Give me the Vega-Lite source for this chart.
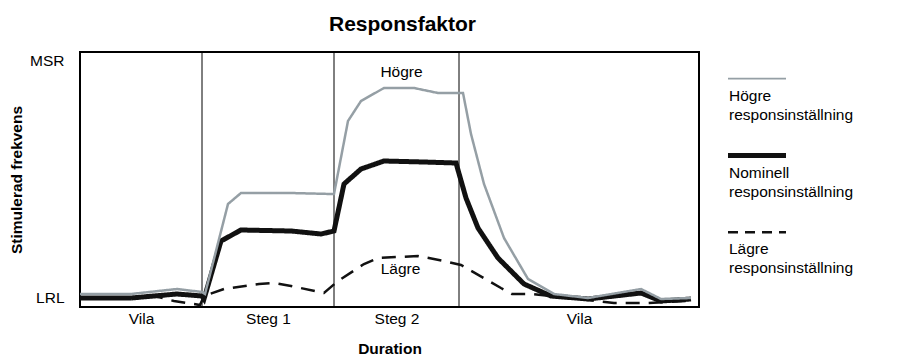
{
  "$schema": "https://vega.github.io/schema/vega-lite/v6.json",
  "background": "white",
  "padding": {"left": 8, "top": 12, "right": 5, "bottom": 0},
  "config": {
    "view": {"stroke": null},
    "font": "Liberation Sans",
    "text": {"font": "Liberation Sans", "color": "#000"},
    "title": {"font": "Liberation Sans", "color": "#000"},
    "axis": {"labelFont": "Liberation Sans", "titleFont": "Liberation Sans", "labelColor": "#000", "titleColor": "#000"}
  },
  "datasets": {
    "linjer": [
      {"serie": "Lägre", "t": 0, "v": 9}, {"serie": "Lägre", "t": 51, "v": 9}, {"serie": "Lägre", "t": 74, "v": 11}, {"serie": "Lägre", "t": 94, "v": 6}, {"serie": "Lägre", "t": 120, "v": 2}, {"serie": "Lägre", "t": 124, "v": 11}, {"serie": "Lägre", "t": 144, "v": 18}, {"serie": "Lägre", "t": 179, "v": 23}, {"serie": "Lägre", "t": 194, "v": 24}, {"serie": "Lägre", "t": 211, "v": 21}, {"serie": "Lägre", "t": 244, "v": 14}, {"serie": "Lägre", "t": 258, "v": 26}, {"serie": "Lägre", "t": 284, "v": 43}, {"serie": "Lägre", "t": 298, "v": 49}, {"serie": "Lägre", "t": 338, "v": 51}, {"serie": "Lägre", "t": 364, "v": 46}, {"serie": "Lägre", "t": 381, "v": 42}, {"serie": "Lägre", "t": 421, "v": 19}, {"serie": "Lägre", "t": 432, "v": 13}, {"serie": "Lägre", "t": 452, "v": 13}, {"serie": "Lägre", "t": 480, "v": 10}, {"serie": "Lägre", "t": 508, "v": 7}, {"serie": "Lägre", "t": 534, "v": 4}, {"serie": "Lägre", "t": 568, "v": 4}, {"serie": "Lägre", "t": 608, "v": 6},
      {"serie": "Nominell", "t": 0, "v": 9}, {"serie": "Nominell", "t": 51, "v": 9}, {"serie": "Nominell", "t": 74, "v": 11}, {"serie": "Nominell", "t": 97, "v": 13}, {"serie": "Nominell", "t": 122, "v": 11}, {"serie": "Nominell", "t": 124, "v": 8}, {"serie": "Nominell", "t": 141, "v": 66}, {"serie": "Nominell", "t": 161, "v": 77}, {"serie": "Nominell", "t": 211, "v": 76}, {"serie": "Nominell", "t": 241, "v": 73}, {"serie": "Nominell", "t": 254, "v": 76}, {"serie": "Nominell", "t": 264, "v": 123}, {"serie": "Nominell", "t": 281, "v": 138}, {"serie": "Nominell", "t": 304, "v": 146}, {"serie": "Nominell", "t": 344, "v": 145}, {"serie": "Nominell", "t": 376, "v": 144}, {"serie": "Nominell", "t": 386, "v": 109}, {"serie": "Nominell", "t": 398, "v": 79}, {"serie": "Nominell", "t": 418, "v": 49}, {"serie": "Nominell", "t": 444, "v": 23}, {"serie": "Nominell", "t": 471, "v": 11}, {"serie": "Nominell", "t": 508, "v": 8}, {"serie": "Nominell", "t": 561, "v": 14}, {"serie": "Nominell", "t": 581, "v": 6}, {"serie": "Nominell", "t": 611, "v": 8},
      {"serie": "Högre", "t": 0, "v": 13}, {"serie": "Högre", "t": 51, "v": 13}, {"serie": "Högre", "t": 97, "v": 18}, {"serie": "Högre", "t": 122, "v": 15}, {"serie": "Högre", "t": 125, "v": 13}, {"serie": "Högre", "t": 148, "v": 103}, {"serie": "Högre", "t": 161, "v": 114}, {"serie": "Högre", "t": 211, "v": 114}, {"serie": "Högre", "t": 251, "v": 113}, {"serie": "Högre", "t": 254, "v": 113}, {"serie": "Högre", "t": 268, "v": 186}, {"serie": "Högre", "t": 281, "v": 206}, {"serie": "Högre", "t": 304, "v": 219}, {"serie": "Högre", "t": 334, "v": 219}, {"serie": "Högre", "t": 358, "v": 214}, {"serie": "Högre", "t": 383, "v": 214}, {"serie": "Högre", "t": 391, "v": 173}, {"serie": "Högre", "t": 404, "v": 123}, {"serie": "Högre", "t": 424, "v": 69}, {"serie": "Högre", "t": 448, "v": 28}, {"serie": "Högre", "t": 474, "v": 13}, {"serie": "Högre", "t": 508, "v": 9}, {"serie": "Högre", "t": 561, "v": 18}, {"serie": "Högre", "t": 581, "v": 8}, {"serie": "Högre", "t": 611, "v": 9}
    ],
    "faser": [
      {"fas": "Steg 1", "t": 122},
      {"fas": "Steg 2", "t": 254},
      {"fas": "Vila", "t": 379}
    ],
    "etiketter": [
      {"text": "Högre", "t": 321.5, "v": 230},
      {"text": "Lägre", "t": 320.5, "v": 33}
    ],
    "forklaring": [
      {"serie": "Högre", "label": "Högre\nresponsinställning"},
      {"serie": "Nominell", "label": "Nominell\nresponsinställning"},
      {"serie": "Lägre", "label": "Lägre\nresponsinställning"}
    ]
  },
  "bounds": "flush",
  "spacing": 29,
  "resolve": {"scale": {"strokeWidth": "independent", "strokeDash": "independent"}},
  "hconcat": [
    {
      "width": 619,
      "height": 255,
      "title": {"text": "Responsfaktor", "fontSize": 21, "fontWeight": "bold", "offset": 17, "dx": 13},
      "view": {"stroke": "#000", "strokeWidth": 2},
      "layer": [
        {
          "data": {"name": "faser"},
          "mark": {"type": "rule", "color": "#000", "strokeWidth": 1},
          "encoding": {
            "x": {"field": "t", "type": "quantitative", "scale": {"domain": [0, 619], "nice": false},
              "axis": {"values": [61, 188, 316.5, 499], "labelExpr": "datum.value < 100 ? 'Vila' : datum.value < 250 ? 'Steg 1' : datum.value < 400 ? 'Steg 2' : 'Vila'", "title": "Duration", "ticks": false, "domain": false, "grid": false, "labelFontSize": 15.5, "labelPadding": 4, "labelFlush": false, "labelOverlap": false, "titleFontSize": 15.5, "titleFontWeight": "bold", "titlePadding": 15}}
          }
        },
        {
          "data": {"name": "linjer"},
          "encoding": {
            "x": {"field": "t", "type": "quantitative", "scale": {"domain": [0, 619], "nice": false},
              "axis": {"values": [61, 188, 316.5, 499], "labelExpr": "datum.value < 100 ? 'Vila' : datum.value < 250 ? 'Steg 1' : datum.value < 400 ? 'Steg 2' : 'Vila'", "title": "Duration", "ticks": false, "domain": false, "grid": false, "labelFontSize": 15.5, "labelPadding": 4, "labelFlush": false, "labelOverlap": false, "titleFontSize": 15.5, "titleFontWeight": "bold", "titlePadding": 15}},
            "y": {"field": "v", "type": "quantitative", "scale": {"domain": [0, 255], "nice": false},
              "axis": {"values": [10, 247], "labelExpr": "datum.value > 100 ? 'MSR' : 'LRL'", "title": "Stimulerad frekvens", "ticks": false, "domain": false, "grid": false, "labelFontSize": 15.5, "labelPadding": 16, "titleFontSize": 15.5, "titleFontWeight": "bold", "titlePadding": 5}},
            "color": {"field": "serie", "type": "nominal", "scale": {"type": "ordinal", "domain": ["Högre", "Nominell", "Lägre"], "range": ["#959fa5", "#111111", "#111111"]}, "legend": null},
            "strokeWidth": {"field": "serie", "type": "nominal", "scale": {"type": "ordinal", "domain": ["Högre", "Nominell", "Lägre"], "range": [2.5, 5, 2.5]}, "legend": null},
            "strokeDash": {"field": "serie", "type": "nominal", "scale": {"type": "ordinal", "domain": ["Högre", "Nominell", "Lägre"], "range": [[1, 0], [1, 0], [14, 9]]}, "legend": null}
          },
          "layer": [
            {"transform": [{"filter": "datum.serie === 'Lägre'"}], "mark": {"type": "line", "strokeJoin": "miter", "strokeMiterLimit": 3}},
            {"transform": [{"filter": "datum.serie === 'Nominell'"}], "mark": {"type": "line", "strokeJoin": "miter", "strokeMiterLimit": 3}},
            {"transform": [{"filter": "datum.serie === 'Högre'"}], "mark": {"type": "line", "strokeJoin": "miter", "strokeMiterLimit": 3}}
          ]
        },
        {
          "data": {"name": "etiketter"},
          "mark": {"type": "text", "fontSize": 15.5, "align": "center", "baseline": "alphabetic"},
          "encoding": {
            "x": {"field": "t", "type": "quantitative"},
            "y": {"field": "v", "type": "quantitative"},
            "text": {"field": "text"}
          }
        }
      ]
    },
    {
      "width": 58,
      "height": 207,
      "data": {"name": "forklaring"},
      "encoding": {
        "y": {"field": "serie", "type": "nominal", "sort": ["Högre", "Nominell", "Lägre"], "scale": {"type": "point", "padding": 0.347}, "axis": null}
      },
      "layer": [
        {
          "mark": {"type": "rule"},
          "encoding": {
            "x": {"datum": 0, "type": "quantitative", "scale": {"domain": [0, 1]}, "axis": null},
            "x2": {"datum": 1},
            "color": {"field": "serie", "type": "nominal", "scale": {"type": "ordinal", "domain": ["Högre", "Nominell", "Lägre"], "range": ["#959fa5", "#111111", "#111111"]}, "legend": null},
            "strokeWidth": {"field": "serie", "type": "nominal", "scale": {"type": "ordinal", "domain": ["Högre", "Nominell", "Lägre"], "range": [1.8, 5, 2.5]}, "legend": null},
            "strokeDash": {"field": "serie", "type": "nominal", "scale": {"type": "ordinal", "domain": ["Högre", "Nominell", "Lägre"], "range": [[1, 0], [1, 0], [10, 7]]}, "legend": null}
          }
        },
        {
          "mark": {"type": "text", "align": "left", "baseline": "alphabetic", "dy": 22, "dx": 1, "lineBreak": "\n", "lineHeight": 19, "fontSize": 15.5},
          "encoding": {
            "x": {"datum": 0, "type": "quantitative", "scale": {"domain": [0, 1]}, "axis": null},
            "text": {"field": "label"}
          }
        }
      ]
    }
  ]
}
